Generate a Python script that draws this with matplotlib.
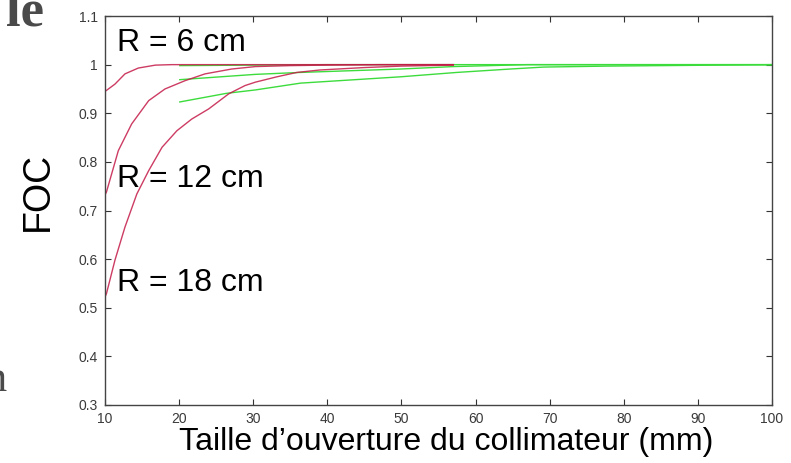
import matplotlib
matplotlib.use("Agg")
import matplotlib.pyplot as plt

# ---- data ----
x_r6 = [10, 10.2, 11.35, 12.7, 14.5, 16.8, 19, 25, 35, 45, 57]
y_r6 = [0.945, 0.947, 0.960, 0.981, 0.993, 0.999, 1.0, 1.0, 1.0, 1.0, 1.0]

x_r12 = [10, 10.2, 11.8, 13.6, 15.9, 18.1, 20.8, 23.5, 27.1, 30.3, 35, 40, 47, 57]
y_r12 = [0.732, 0.738, 0.823, 0.878, 0.926, 0.950, 0.967, 0.981, 0.991, 0.996, 0.998, 0.999, 1.0, 1.0]

x_r18 = [10, 10.2, 11.35, 12.7, 14.3, 15.9, 17.7, 19.7, 21.7, 24.0, 26.7, 28.9, 30.3,
         33.2, 35.9, 39, 45, 50, 57]
y_r18 = [0.522, 0.529, 0.598, 0.666, 0.734, 0.782, 0.830, 0.864, 0.888, 0.909, 0.940,
         0.957, 0.964, 0.975, 0.984, 0.989, 0.994, 0.997, 0.999]

x_g1 = [20, 30, 40, 60, 100]
y_g1 = [0.998, 0.999, 1.0, 1.0, 1.0]

x_g2 = [20, 30.3, 36.4, 49.9, 57, 67, 100]
y_g2 = [0.969, 0.980, 0.984, 0.991, 0.996, 1.0, 1.0]

x_g3 = [20, 26.4, 30.3, 36.4, 49.9, 57.5, 64.7, 69.2, 77.8, 92.7, 100]
y_g3 = [0.923, 0.941, 0.948, 0.962, 0.975, 0.984, 0.991, 0.995, 0.997, 0.999, 1.0]

labels = ["R = 6 cm", "R = 12 cm", "R = 18 cm"]
label_x = [11.6, 11.6, 11.6]
label_y = [1.044, 0.764, 0.550]

xticks = [10, 20, 30, 40, 50, 60, 70, 80, 90, 100]
yticks = [0.3, 0.4, 0.5, 0.6, 0.7, 0.8, 0.9, 1.0, 1.1]
yticklabels = ["0.3", "0.4", "0.5", "0.6", "0.7", "0.8", "0.9", "1", "1.1"]

plt.rcParams['font.family'] = ['Liberation Sans', 'DejaVu Sans']

fig = plt.figure(figsize=(7.91, 4.63), dpi=100)
ax = fig.add_axes([0.1327, 0.1253, 0.976 - 0.1327, 0.9654 - 0.1253])

red = '#c41a48'
green = '#3ddc3d'
for xs, ys in [(x_g1, y_g1), (x_g2, y_g2), (x_g3, y_g3)]:
    ax.plot(xs, ys, color=green, lw=1.0, solid_capstyle='butt')
for xs, ys in [(x_r6, y_r6), (x_r12, y_r12), (x_r18, y_r18)]:
    ax.plot(xs, ys, color=red, lw=1.0, alpha=0.85)

for t, lx, ly in zip(labels, label_x, label_y):
    ax.text(lx, ly, t, fontsize=23, va='center', ha='left', color='black')

ax.set_xlim(10, 100)
ax.set_ylim(0.3, 1.1)
ax.set_xticks(xticks)
ax.set_yticks(yticks)
ax.set_yticklabels(yticklabels)
ax.tick_params(direction='in', top=True, right=True, length=4, width=0.8,
               labelsize=10, labelcolor='#3a3a3a', color='#333333')
ax.tick_params(axis='x', pad=5)
ax.tick_params(axis='y', pad=5)
for s in ax.spines.values():
    s.set_color('#444444')
    s.set_linewidth(1.0)

ax.set_xlabel("Taille d\u2019ouverture du collimateur (mm)", fontsize=23)
ax.xaxis.set_label_coords(0.511, -0.056)
ax.xaxis.label.set_va('top')
ax.set_ylabel("FOC", fontsize=27)
ax.yaxis.set_label_coords(-0.1, 0.55)
ax.yaxis.label.set_va('center')

# slide fragments outside the plot
fig.text(44 / 791, 1 - 26 / 463, "le", fontsize=38, fontweight='bold',
         family='Liberation Serif', color='#4a4a4a', ha='right', va='baseline')
fig.text(7 / 791, 1 - 391 / 463, "n", fontsize=32, family='Liberation Serif',
         color='#4a4a4a', ha='right', va='baseline')

fig.savefig("out.png", dpi=100)
